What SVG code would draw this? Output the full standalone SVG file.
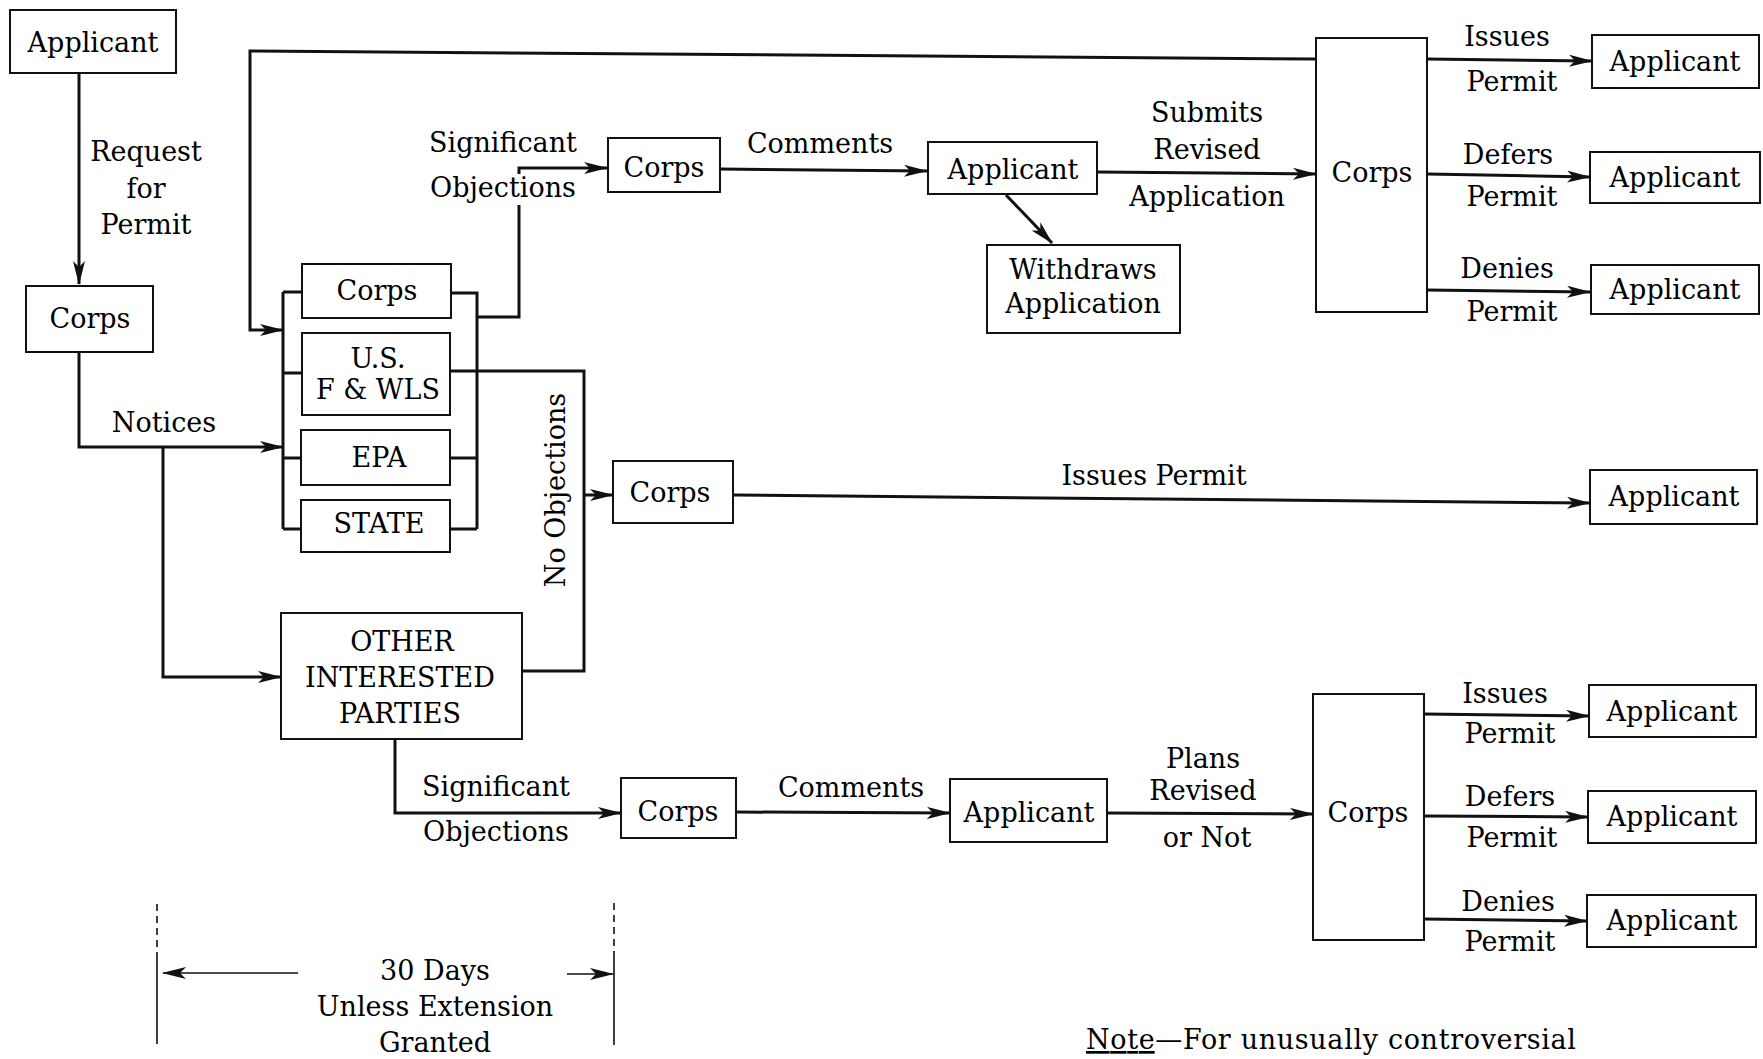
<svg xmlns="http://www.w3.org/2000/svg" width="1763" height="1059" viewBox="0 0 1763 1059">
<style>
rect{fill:#fff;stroke:#111;stroke-width:2}
text{font-family:"DejaVu Serif","Liberation Serif",serif;font-size:27px;fill:#000;text-anchor:middle}
.c{fill:none;stroke:#111;stroke-width:3}
.a{marker-end:url(#ah)}
.t{fill:none;stroke:#111;stroke-width:1.6}
.d{stroke-dasharray:7 5}
</style>
<defs>
<marker id="ah" viewBox="0 0 24 12" refX="23" refY="6" markerWidth="24" markerHeight="12" markerUnits="userSpaceOnUse" orient="auto"><path d="M0,0 L24,6 L0,12 L6,6 z" fill="#111"/></marker>
</defs>
<rect width="1763" height="1059" style="fill:#fff;stroke:none"/>
<g id="connectors">
<path class="c a" d="M79,74 V284"/>
<path class="c a" d="M79,351 V447 H283"/>
<path class="c a" d="M163,447 V677 H281"/>
<path class="c a" d="M1316,59 L250,51 V330 H283"/>
<path class="c" d="M283,292 V529 M283,292 H302 M283,373 H302 M283,458 H301 M283,529 H301"/>
<path class="c" d="M451,293 H477 V529 M450,371 H477 M450,458 H477 M450,529 H477"/>
<path class="c" d="M477,317 H519 V205"/>
<path class="c a" d="M519,174 V168 H607"/>
<path class="c a" d="M720,169 L927,171"/>
<path class="c a" d="M1006,195 L1052,243"/>
<path class="c a" d="M1097,172 L1316,174"/>
<path class="c a" d="M1427,59 L1592,61"/>
<path class="c a" d="M1427,174 L1590,177"/>
<path class="c a" d="M1427,290 L1590,292"/>
<path class="c" d="M477,371 H584 V671 H522"/>
<path class="c a" d="M584,495 H613"/>
<path class="c a" d="M734,495 L1590,503"/>
<path class="c a" d="M395,740 V813 H621"/>
<path class="c a" d="M736,812 L950,813"/>
<path class="c a" d="M1107,813 L1313,814"/>
<path class="c a" d="M1424,714 L1589,716"/>
<path class="c a" d="M1424,816 L1588,817"/>
<path class="c a" d="M1424,919 L1587,921"/>
</g>
<g id="labels">
<text x="146" y="161">Request</text>
<text x="146" y="198">for</text>
<text x="146" y="234">Permit</text>
<text x="164" y="432">Notices</text>
<text x="503" y="152">Significant</text>
<text x="503" y="197">Objections</text>
<text x="820" y="153">Comments</text>
<text x="1207" y="122">Submits</text>
<text x="1207" y="159">Revised</text>
<text x="1207" y="206">Application</text>
<text x="1507" y="46">Issues</text>
<text x="1512" y="91">Permit</text>
<text x="1508" y="164">Defers</text>
<text x="1512" y="206">Permit</text>
<text x="1507" y="278">Denies</text>
<text x="1512" y="321">Permit</text>
<text transform="translate(565,490) rotate(-90)">No Objections</text>
<text x="1154" y="485">Issues Permit</text>
<text x="496" y="796">Significant</text>
<text x="496" y="841">Objections</text>
<text x="851" y="797">Comments</text>
<text x="1203" y="768">Plans</text>
<text x="1203" y="800">Revised</text>
<text x="1207" y="847">or Not</text>
<text x="1505" y="703">Issues</text>
<text x="1510" y="743">Permit</text>
<text x="1510" y="806">Defers</text>
<text x="1512" y="847">Permit</text>
<text x="1508" y="911">Denies</text>
<text x="1510" y="951">Permit</text>
</g>
<g id="n-applicant-start"><rect x="10" y="10" width="166" height="63"/><text x="93" y="52">Applicant</text></g>
<g id="n-corps-start"><rect x="26" y="286" width="127" height="66"/><text x="90" y="328">Corps</text></g>
<g id="n-corps-agency"><rect x="302" y="264" width="149" height="54"/><text x="377" y="300">Corps</text></g>
<g id="n-usfwls"><rect x="302" y="333" width="148" height="82"/><text x="378" y="368">U.S.</text><text x="378" y="399">F &amp; WLS</text></g>
<g id="n-epa"><rect x="301" y="430" width="149" height="55"/><text x="379" y="467">EPA</text></g>
<g id="n-state"><rect x="301" y="500" width="149" height="52"/><text x="379" y="533">STATE</text></g>
<g id="n-other"><rect x="281" y="613" width="241" height="126"/><text x="402" y="651">OTHER</text><text x="400" y="687">INTERESTED</text><text x="400" y="723">PARTIES</text></g>
<g id="n-corps-top"><rect x="608" y="138" width="112" height="54"/><text x="664" y="177">Corps</text></g>
<g id="n-applicant-top"><rect x="928" y="142" width="169" height="52"/><text x="1013" y="179">Applicant</text></g>
<g id="n-withdraws"><rect x="987" y="245" width="193" height="88"/><text x="1083" y="279">Withdraws</text><text x="1083" y="313">Application</text></g>
<g id="n-corps-decide-top"><rect x="1316" y="38" width="111" height="274"/><text x="1372" y="182">Corps</text></g>
<g id="n-applicant-t1"><rect x="1592" y="35" width="167" height="53"/><text x="1675" y="71">Applicant</text></g>
<g id="n-applicant-t2"><rect x="1590" y="152" width="170" height="51"/><text x="1675" y="187">Applicant</text></g>
<g id="n-applicant-t3"><rect x="1591" y="265" width="168" height="49"/><text x="1675" y="299">Applicant</text></g>
<g id="n-corps-mid"><rect x="613" y="461" width="120" height="62"/><text x="670" y="502">Corps</text></g>
<g id="n-applicant-mid"><rect x="1590" y="470" width="167" height="54"/><text x="1674" y="506">Applicant</text></g>
<g id="n-corps-bot"><rect x="621" y="778" width="115" height="60"/><text x="678" y="821">Corps</text></g>
<g id="n-applicant-bot"><rect x="950" y="779" width="157" height="63"/><text x="1029" y="822">Applicant</text></g>
<g id="n-corps-decide-bot"><rect x="1313" y="694" width="111" height="246"/><text x="1368" y="822">Corps</text></g>
<g id="n-applicant-b1"><rect x="1589" y="685" width="167" height="52"/><text x="1672" y="721">Applicant</text></g>
<g id="n-applicant-b2"><rect x="1588" y="791" width="168" height="52"/><text x="1672" y="826">Applicant</text></g>
<g id="n-applicant-b3"><rect x="1587" y="895" width="169" height="52"/><text x="1672" y="930">Applicant</text></g>
<g id="timeline">
<path class="t d" d="M157,904 V956 M614,903 V956"/>
<path class="t" d="M157,956 V1044 M614,956 V1045"/>
<path class="t a" d="M298,973 H163"/>
<path class="t a" d="M567,974 H613"/>
<text x="435" y="980">30 Days</text>
<text x="435" y="1016">Unless Extension</text>
<text x="435" y="1052">Granted</text>
<text x="1086" y="1049" style="text-anchor:start" textLength="490"><tspan style="text-decoration:underline">Note</tspan>—For unusually controversial</text>
</g>
</svg>
